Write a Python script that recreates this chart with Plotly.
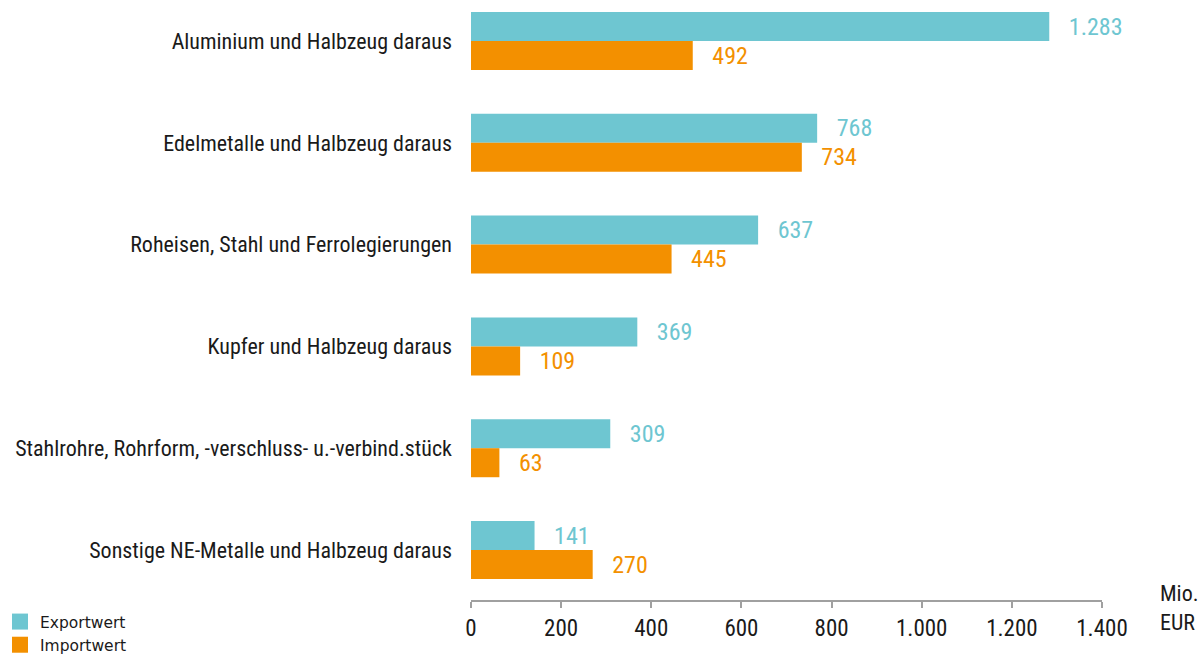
import plotly.graph_objects as go

categories = [
    "Aluminium und Halbzeug daraus",
    "Edelmetalle und Halbzeug daraus",
    "Roheisen, Stahl und Ferrolegierungen",
    "Kupfer und Halbzeug daraus",
    "Stahlrohre, Rohrform, -verschluss- u.-verbind.stück",
    "Sonstige NE-Metalle und Halbzeug daraus",
]
export_values = [1283, 768, 637, 369, 309, 141]
import_values = [492, 734, 445, 109, 63, 270]
x_ticks = [0, 200, 400, 600, 800, 1000, 1200, 1400]
series_names = ["Exportwert", "Importwert"]

FONT = "Liberation Sans Narrow, Roboto Condensed, Roboto, sans-serif"
LEGEND_FONT = "DejaVu Sans, Roboto, sans-serif"
TEAL = "#6EC6D1"
ORANGE = "#F39000"
TEXT = "#1a1a1a"

fig = go.Figure()
for vals, color in [(export_values, TEAL), (import_values, ORANGE)]:
    fig.add_trace(go.Bar(
        y=categories, x=vals, orientation="h", showlegend=False,
        marker=dict(color=color, line=dict(width=0)),
        texttemplate="   %{x:,.0f}", textposition="outside",
        textfont=dict(color=color, size=24, family=FONT), cliponaxis=False,
    ))
# legend entries (square swatches)
for name, color in zip(series_names, [TEAL, ORANGE]):
    fig.add_trace(go.Scatter(
        x=[None], y=[None], mode="markers", name=name,
        marker=dict(symbol="square", size=18, color=color),
    ))

fig.update_layout(
    width=1200, height=655,
    margin=dict(l=471, r=98, t=0, b=55, autoexpand=False),
    barmode="group", bargap=0.43, bargroupgap=0,
    separators=",.",
    plot_bgcolor="white", paper_bgcolor="white",
    font=dict(family=FONT, size=22, color=TEXT),
    legend=dict(
        xref="container", yref="container", x=0.0, y=1 - 605 / 655,
        xanchor="left", yanchor="top",
        font=dict(size=15.5, family=LEGEND_FONT, color=TEXT), traceorder="normal",
        tracegroupgap=0, bgcolor="rgba(0,0,0,0)", borderwidth=0,
    ),
    xaxis=dict(
        range=[0, 1400], tickvals=x_ticks, separatethousands=True, tickformat=",d",
        showgrid=False, zeroline=False, showline=True, linecolor="#A0A0A0", linewidth=2,
        ticks="outside", ticklen=6, tickcolor="#A0A0A0", tickwidth=2,
        tickfont=dict(size=23, family=FONT, color=TEXT), automargin=False,
    ),
    yaxis=dict(
        range=[5.491, -0.4028], showgrid=False, zeroline=False, showline=False,
        ticks="", ticklabelstandoff=18, automargin=False,
        tickfont=dict(size=22, family=FONT, color=TEXT),
    ),
    annotations=[dict(
        text="Mio.<br>EUR", xref="paper", yref="paper", x=1.0, y=0.0, xshift=56,
        xanchor="left", yanchor="middle", yshift=-8, align="left", showarrow=False,
        font=dict(size=22, family=FONT, color=TEXT),
    )],
)

fig.write_html(
    "out.html",
    config={"displayModeBar": False},
    post_script="document.body.style.margin='0';",
)
